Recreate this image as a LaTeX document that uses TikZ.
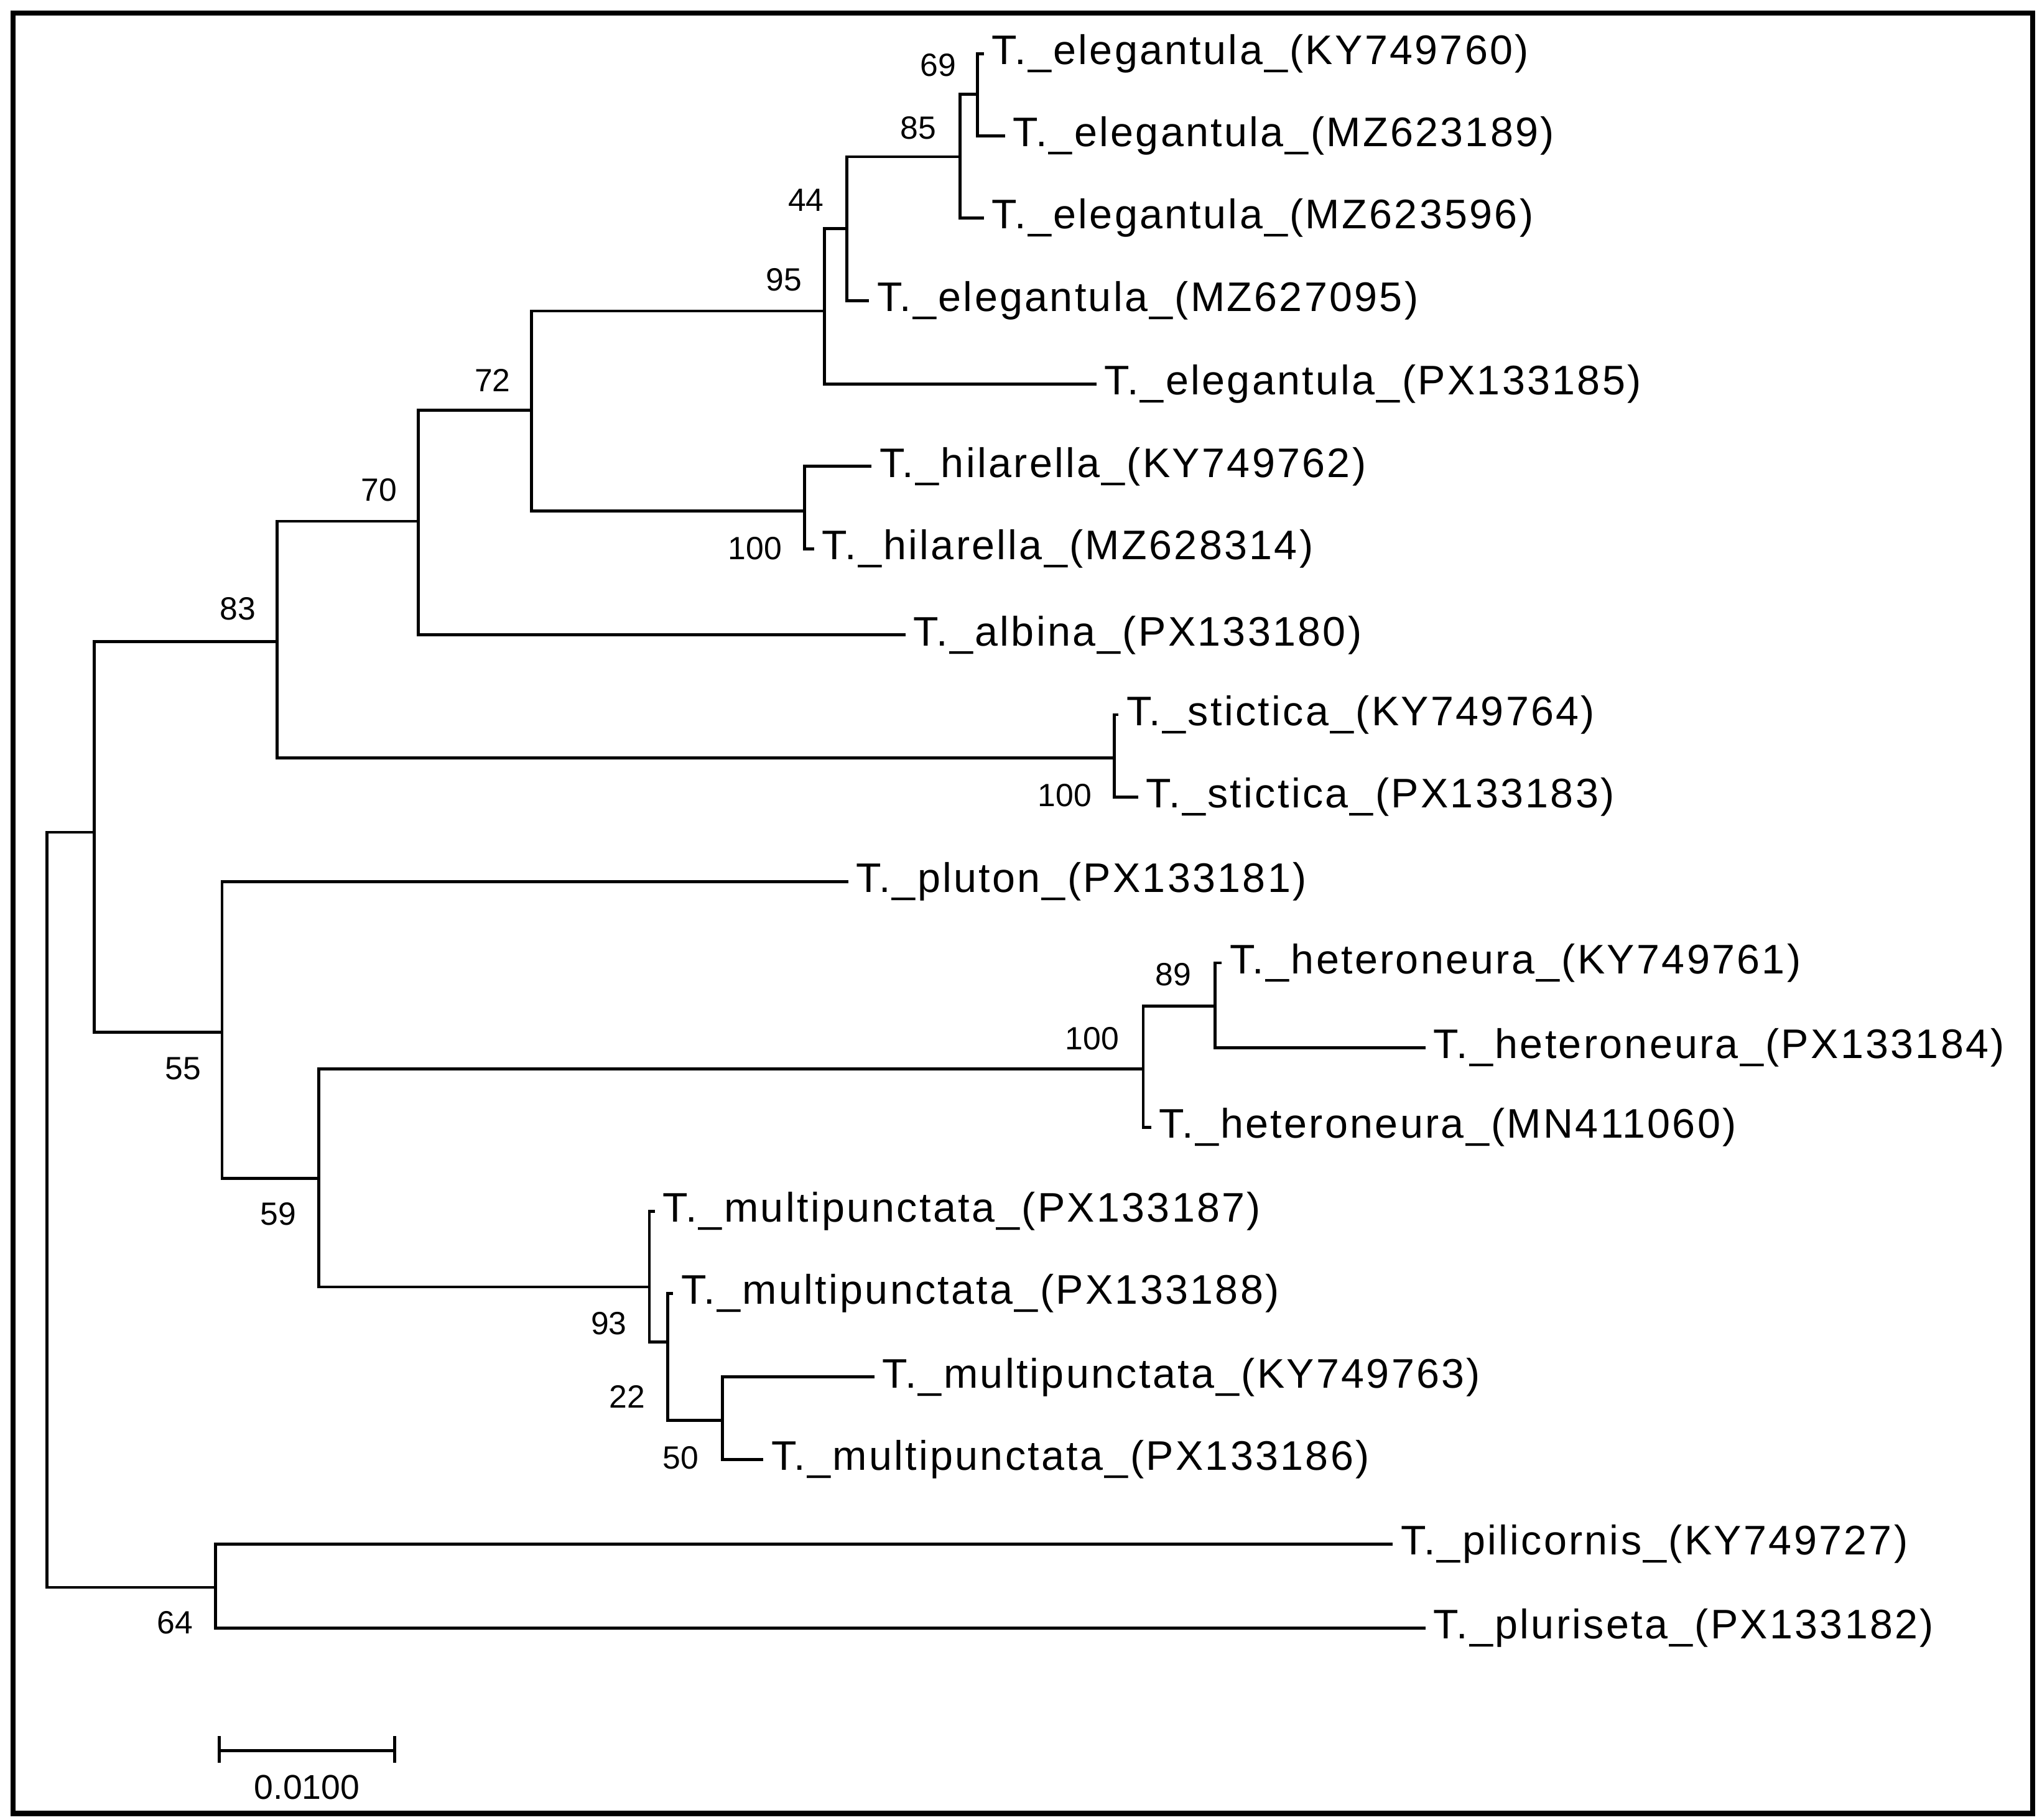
\documentclass[tikz,border=0pt]{standalone}
\usepackage{fontspec}
\setmainfont{Liberation Sans}
\newfontfamily\tipfont{Liberation Sans}[LetterSpace=5]
\begin{document}
\begin{tikzpicture}[x=0.02cm,y=-0.02cm,
 br/.style={line width=1.3pt,line cap=rect},
 tip/.style={anchor=west,inner sep=0pt,xshift=7*0.02cm,font=\tipfont\fontsize{18}{20}\selectfont},
 bs/.style={inner sep=0pt,font=\fontsize{14}{16}\selectfont}]
\useasboundingbox (0,0) rectangle (1563,1393);
\draw[line width=2.2pt] (10,10) rectangle (1556,1388);
% junctions
\coordinate (n69) at (748,72);
\coordinate (n85) at (735,120);
\coordinate (n44) at (648,175);
\coordinate (n95) at (631,238);
\coordinate (nhil) at (616,391);
\coordinate (n72) at (407,314);
\coordinate (n70) at (320,399);
\coordinate (nsti) at (853,580);
\coordinate (n83) at (212,491);
\coordinate (nup) at (72,637);
\coordinate (n89) at (930,770);
\coordinate (nhet) at (875,818);
\coordinate (n50) at (553,1087);
\coordinate (n22) at (511,1027);
\coordinate (n93) at (497,985);
\coordinate (n59) at (244,902);
\coordinate (n55) at (170,790);
\coordinate (n64) at (165,1215);
\coordinate (root) at (36,926);
% tip ends
\foreach \n/\x/\y in {e1/752/41,e2/768/104,e3/752/167,e4/664/230,e5/838/294,h1/666/357,h2/622/420,a1/692/486,s1/855/547,s2/870/610,p1/648/675,he1/934/737,he2/1090/802,he3/880/863,m1/500/927,m2/514/990,m3/668/1054,m4/583/1117,pi1/1065/1182,pi2/1090/1246}
 \coordinate (\n) at (\x,\y);
% labels
\node[tip] (le1) at (e1) {T.\_elegantula\_(KY749760)};
\node[tip] (le2) at (e2) {T.\_elegantula\_(MZ623189)};
\node[tip] (le3) at (e3) {T.\_elegantula\_(MZ623596)};
\node[tip] (le4) at (e4) {T.\_elegantula\_(MZ627095)};
\node[tip] (le5) at (e5) {T.\_elegantula\_(PX133185)};
\node[tip] (lh1) at (h1) {T.\_hilarella\_(KY749762)};
\node[tip] (lh2) at (h2) {T.\_hilarella\_(MZ628314)};
\node[tip] (la1) at (a1) {T.\_albina\_(PX133180)};
\node[tip] (ls1) at (s1) {T.\_stictica\_(KY749764)};
\node[tip] (ls2) at (s2) {T.\_stictica\_(PX133183)};
\node[tip] (lp1) at (p1) {T.\_pluton\_(PX133181)};
\node[tip] (lhe1) at (he1) {T.\_heteroneura\_(KY749761)};
\node[tip] (lhe2) at (he2) {T.\_heteroneura\_(PX133184)};
\node[tip] (lhe3) at (he3) {T.\_heteroneura\_(MN411060)};
\node[tip] (lm1) at (m1) {T.\_multipunctata\_(PX133187)};
\node[tip] (lm2) at (m2) {T.\_multipunctata\_(PX133188)};
\node[tip] (lm3) at (m3) {T.\_multipunctata\_(KY749763)};
\node[tip] (lm4) at (m4) {T.\_multipunctata\_(PX133186)};
\node[tip] (lpi1) at (pi1) {T.\_pilicornis\_(KY749727)};
\node[tip] (lpi2) at (pi2) {T.\_pluriseta\_(PX133182)};
% branches
\draw[br] (e1) -| (n69) |- (e2);
\draw[br] (n69) -| (n85) |- (e3);
\draw[br] (n85) -| (n44) |- (e4);
\draw[br] (n44) -| (n95) |- (e5);
\draw[br] (h1) -| (nhil) |- (h2);
\draw[br] (n95) -| (n72) |- (nhil);
\draw[br] (n72) -| (n70) |- (a1);
\draw[br] (s1) -| (nsti) |- (s2);
\draw[br] (n70) -| (n83) |- (nsti);
\draw[br] (he1) -| (n89) |- (he2);
\draw[br] (n89) -| (nhet) |- (he3);
\draw[br] (m3) -| (n50) |- (m4);
\draw[br] (m2) -| (n22) |- (n50);
\draw[br] (m1) -| (n93) |- (n22);
\draw[br] (nhet) -| (n59) |- (n93);
\draw[br] (p1) -| (n55) |- (n59);
\draw[br] (n83) -| (nup) |- (n55);
\draw[br] (pi1) -| (n64) |- (pi2);
\draw[br] (nup) -| (root) |- (n64);
% bootstrap
\foreach \t/\x/\y in {69/718/50,85/703/98,44/617/153,95/600/214,72/377/291,100/578/420,70/290/375,83/182/466,100/815/609,89/898/746,100/836/795,55/140/818,59/213/929,93/466/1013,22/480/1069,50/521/1116,64/134/1242}
 \node[bs] at (\x,\y) {\t};
% scale bar
\coordinate (sb1) at (168,1340);
\coordinate (sb2) at (302,1340);
\draw[br] (sb1) -- (sb2);
\draw[br] ([yshift=-8*0.02cm]sb1) -- ([yshift=10*0.02cm]sb1);
\draw[br] ([yshift=-8*0.02cm]sb2) -- ([yshift=10*0.02cm]sb2);
\node[bs,font=\fontsize{15}{17}\selectfont] (sbl) at (235,1368) {0.0100};
\end{tikzpicture}
\end{document}
